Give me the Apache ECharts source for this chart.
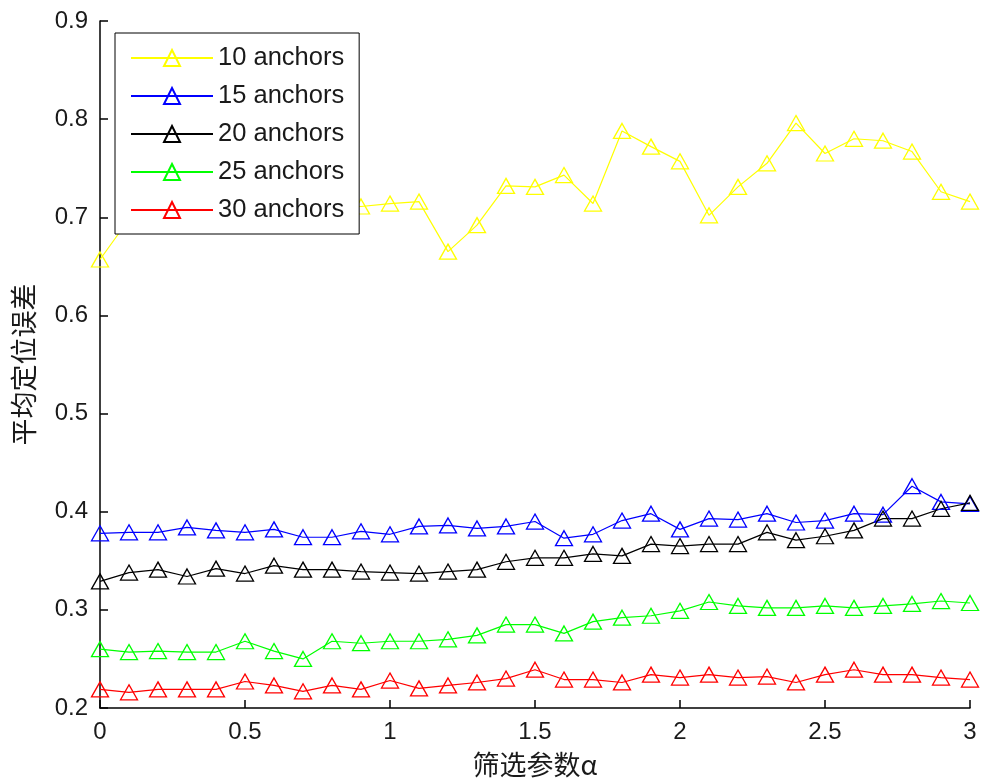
<!DOCTYPE html>
<html>
<head>
<meta charset="utf-8">
<script src="https://cdn.jsdelivr.net/npm/echarts@6/dist/echarts.min.js"></script>
<style>
  html, body { margin: 0; padding: 0; background: #fff; }
  #chart { width: 985px; height: 780px; }
</style>
</head>
<body>
<div id="chart"></div>
<script>
// Filter parameter alpha (x axis)
const alphas = [0, 0.1, 0.2, 0.3, 0.4, 0.5, 0.6, 0.7, 0.8, 0.9,
                1.0, 1.1, 1.2, 1.3, 1.4, 1.5, 1.6, 1.7, 1.8, 1.9,
                2.0, 2.1, 2.2, 2.3, 2.4, 2.5, 2.6, 2.7, 2.8, 2.9, 3.0];

// Mean localization error per anchor count
const anchors10 = [0.657, 0.698, 0.706, 0.712, 0.709, 0.718, 0.711, 0.705, 0.713, 0.711,
                   0.714, 0.716, 0.665, 0.692, 0.732, 0.731, 0.743, 0.714, 0.788, 0.772,
                   0.757, 0.702, 0.731, 0.755, 0.796, 0.765, 0.780, 0.778, 0.767, 0.726, 0.716];
const anchors15 = [0.378, 0.379, 0.379, 0.384, 0.381, 0.379, 0.382, 0.374, 0.374, 0.380,
                   0.377, 0.385, 0.386, 0.383, 0.385, 0.390, 0.373, 0.377, 0.391, 0.398,
                   0.382, 0.393, 0.392, 0.398, 0.389, 0.391, 0.398, 0.397, 0.426, 0.410, 0.408];
const anchors20 = [0.329, 0.338, 0.341, 0.334, 0.342, 0.337, 0.345, 0.341, 0.341, 0.339,
                   0.338, 0.337, 0.339, 0.341, 0.349, 0.353, 0.353, 0.357, 0.355, 0.367,
                   0.365, 0.367, 0.367, 0.379, 0.371, 0.375, 0.381, 0.393, 0.393, 0.403, 0.409];
const anchors25 = [0.260, 0.257, 0.258, 0.257, 0.257, 0.268, 0.258, 0.250, 0.268, 0.266,
                   0.268, 0.268, 0.270, 0.274, 0.285, 0.285, 0.276, 0.288, 0.292, 0.294,
                   0.299, 0.308, 0.304, 0.302, 0.302, 0.304, 0.302, 0.304, 0.306, 0.309, 0.307];
const anchors30 = [0.219, 0.216, 0.219, 0.219, 0.219, 0.227, 0.223, 0.217, 0.223, 0.219,
                   0.228, 0.220, 0.223, 0.226, 0.230, 0.239, 0.229, 0.229, 0.226, 0.234,
                   0.231, 0.234, 0.231, 0.232, 0.226, 0.234, 0.239, 0.234, 0.234, 0.231, 0.229];

const seriesNames = ['10 anchors', '15 anchors', '20 anchors', '25 anchors', '30 anchors'];
const seriesValues = [anchors10, anchors15, anchors20, anchors25, anchors30];
const seriesColors = ['#ffff00', '#0000ff', '#000000', '#00ff00', '#ff0000'];

const xTicks = { min: 0, max: 3, interval: 0.5 };
const yTicks = { min: 0.2, max: 0.9, interval: 0.1 };

const FONT = '"Liberation Sans", Arial, sans-serif';
const CJK = '"Noto Sans CJK SC", "Liberation Sans", sans-serif';

const chart = echarts.init(document.getElementById('chart'), null, { renderer: 'canvas' });

const series = seriesNames.map((name, i) => ({
  name: name,
  type: 'line',
  data: alphas.map((a, k) => [a, seriesValues[i][k]]),
  symbol: 'triangle',
  symbolSize: [17, 15],
  showAllSymbol: true,
  lineStyle: { color: seriesColors[i], width: 1.2 },
  itemStyle: { color: 'rgba(255,255,255,0)', borderColor: seriesColors[i], borderWidth: 1.3 },
  emphasis: { disabled: true },
  animation: false
}));

chart.setOption({
  backgroundColor: '#ffffff',
  animation: false,
  grid: { left: 100, right: 15, top: 21, bottom: 72, containLabel: false, outerBoundsMode: 'none' },
  legend: {
    orient: 'vertical',
    left: 115,
    top: 33,
    padding: [12, 15, 11, 15],
    itemWidth: 82,
    itemHeight: 20,
    itemGap: 12,
    backgroundColor: '#ffffff',
    borderColor: '#000000',
    borderWidth: 1,
    borderRadius: 0,
    textStyle: { fontFamily: FONT, fontSize: 25.5, color: '#1a1a1a', lineHeight: 24 },
    data: seriesNames
  },
  xAxis: {
    type: 'value',
    min: xTicks.min,
    max: xTicks.max,
    interval: xTicks.interval,
    name: '筛选参数α',
    nameLocation: 'middle',
    nameGap: 43,
    nameTextStyle: { fontFamily: CJK, fontSize: 27, color: '#1a1a1a' },
    axisLine: { show: true, onZero: false, lineStyle: { color: '#000', width: 1.5 } },
    axisTick: { show: true, inside: true, length: 8, lineStyle: { color: '#000', width: 1.5 } },
    axisLabel: { fontFamily: FONT, fontSize: 24, color: '#1a1a1a', margin: 12 },
    splitLine: { show: false }
  },
  yAxis: {
    type: 'value',
    min: yTicks.min,
    max: yTicks.max,
    interval: yTicks.interval,
    name: '平均定位误差',
    nameLocation: 'middle',
    nameRotate: 90,
    nameGap: 63,
    nameTextStyle: { fontFamily: CJK, fontSize: 27, color: '#1a1a1a' },
    axisLine: { show: true, onZero: false, lineStyle: { color: '#000', width: 1.5 } },
    axisTick: { show: true, inside: true, length: 8, lineStyle: { color: '#000', width: 1.5 } },
    axisLabel: {
      fontFamily: FONT, fontSize: 24, color: '#1a1a1a', margin: 12,
      formatter: v => v.toFixed(1)
    },
    splitLine: { show: false }
  },
  series: series
});
</script>
</body>
</html>
